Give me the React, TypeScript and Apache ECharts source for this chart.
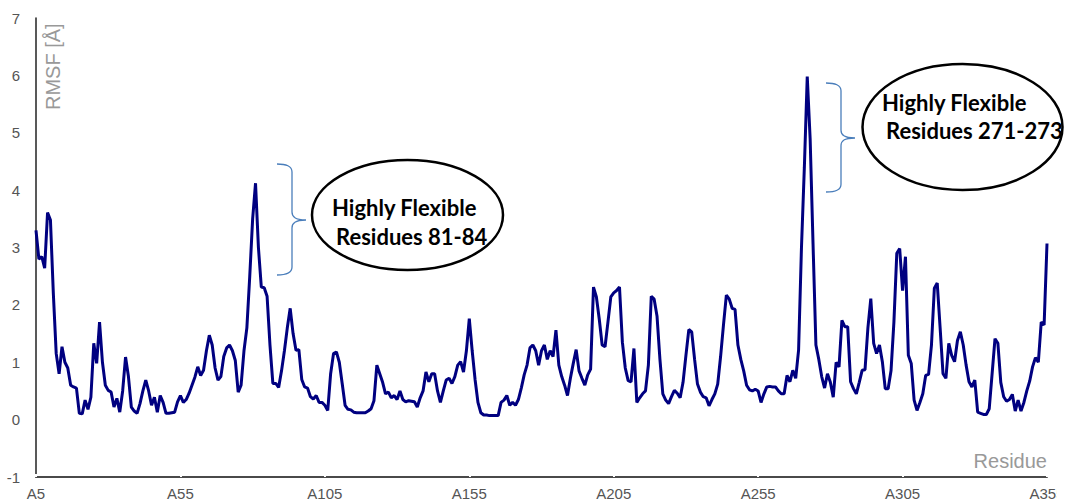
import React, { useEffect, useRef } from "react";
import * as echarts from "echarts";

// RMSF values (Å) for residues A5 … A355
const rmsf: number[] = [
  // A5 – A54
  3.30, 2.80, 2.84, 2.64, 3.61, 3.48, 2.20, 1.15, 0.80, 1.27,
  1.00, 0.90, 0.60, 0.57, 0.55, 0.11, 0.10, 0.34, 0.18, 0.39,
  1.33, 0.98, 1.70, 1.00, 0.60, 0.51, 0.48, 0.22, 0.37, 0.13,
  0.50, 1.09, 0.75, 0.22, 0.15, 0.11, 0.28, 0.50, 0.69, 0.50,
  0.25, 0.39, 0.13, 0.42, 0.30, 0.11, 0.11, 0.12, 0.13, 0.31,
  // A55 – A104
  0.42, 0.30, 0.35, 0.46, 0.60, 0.74, 0.92, 0.77, 0.86, 1.20,
  1.47, 1.30, 0.90, 0.69, 0.75, 1.10, 1.25, 1.30, 1.20, 1.03,
  0.48, 0.60, 1.20, 1.60, 2.50, 3.50, 4.12, 3.00, 2.31, 2.30,
  2.15, 1.30, 0.63, 0.63, 0.56, 0.85, 1.20, 1.60, 1.94, 1.50,
  1.21, 1.22, 0.70, 0.57, 0.55, 0.40, 0.36, 0.42, 0.30, 0.30,
  // A105 – A154
  0.25, 0.16, 0.80, 1.15, 1.18, 1.00, 0.63, 0.25, 0.18, 0.17,
  0.13, 0.12, 0.12, 0.12, 0.12, 0.15, 0.19, 0.33, 0.95, 0.80,
  0.65, 0.45, 0.48, 0.38, 0.42, 0.35, 0.50, 0.35, 0.31, 0.33,
  0.32, 0.31, 0.22, 0.38, 0.50, 0.83, 0.66, 0.80, 0.80, 0.50,
  0.30, 0.50, 0.69, 0.72, 0.63, 0.75, 0.95, 1.01, 0.83, 1.20,
  // A155 – A204
  1.76, 1.20, 0.70, 0.30, 0.12, 0.08, 0.08, 0.07, 0.07, 0.07,
  0.07, 0.30, 0.34, 0.42, 0.25, 0.30, 0.25, 0.35, 0.55, 0.78,
  0.95, 1.25, 1.30, 1.20, 0.95, 1.20, 1.30, 1.05, 1.20, 1.10,
  1.56, 0.95, 0.75, 0.60, 0.42, 0.72, 0.98, 1.22, 0.85, 0.72,
  0.60, 0.78, 0.88, 2.31, 2.14, 1.75, 1.30, 1.27, 1.70, 2.14,
  // A205 – A254
  2.21, 2.25, 2.31, 1.35, 0.90, 0.68, 0.66, 1.24, 0.30, 0.38,
  0.45, 0.50, 0.95, 2.15, 2.10, 1.80, 1.05, 0.45, 0.34, 0.28,
  0.40, 0.51, 0.46, 0.38, 0.65, 1.12, 1.57, 1.53, 1.05, 0.62,
  0.48, 0.40, 0.38, 0.24, 0.35, 0.45, 0.62, 1.10, 1.65, 2.17,
  2.10, 1.94, 1.92, 1.30, 1.05, 0.85, 0.60, 0.52, 0.50, 0.53,
  // A255 – A304
  0.50, 0.30, 0.45, 0.57, 0.58, 0.57, 0.57, 0.50, 0.45, 0.45,
  0.77, 0.66, 0.86, 0.72, 1.21, 3.00, 4.40, 5.98, 4.90, 3.07,
  1.30, 1.05, 0.75, 0.55, 0.80, 0.65, 0.39, 1.00, 0.92, 1.73,
  1.62, 1.62, 0.66, 0.54, 0.45, 0.65, 0.86, 0.87, 1.60, 2.11,
  1.33, 1.15, 1.30, 1.01, 0.54, 0.54, 0.85, 1.70, 2.90, 2.98,
  // A305 – A355
  2.25, 2.84, 1.12, 0.98, 0.34, 0.16, 0.30, 0.45, 0.77, 0.79,
  1.30, 2.29, 2.38, 1.60, 0.80, 0.72, 1.33, 1.12, 1.01, 1.38,
  1.53, 1.30, 0.95, 0.66, 0.57, 0.69, 0.13, 0.11, 0.09, 0.09,
  0.19, 0.80, 1.41, 1.33, 0.65, 0.40, 0.32, 0.35, 0.44, 0.15,
  0.34, 0.15, 0.30, 0.50, 0.67, 0.92, 1.08, 1.00, 1.70, 1.65,
  3.07,
];

const firstResidue = 5;
const residues: string[] = rmsf.map((_, i) => "A" + (firstResidue + i));
const labelEvery = 50;

const yMin = -1;
const yMax = 7;
const yStep = 1;

const yAxisTitle = "RMSF [Å]";
const xAxisTitle = "Residue";

const noteLines1 = ["Highly Flexible", "Residues 81-84"];
const noteLines2 = ["Highly Flexible", "Residues 271-273"];

const BRACE_D =
  "M0,0 C9,0 15,2 15,8 L15,48 C15,53 18,56 29,56 C18,56 15,59 15,64 L15,103 C15,109 9,111 0,111";

export default function App() {
  const ref = useRef<HTMLDivElement>(null);

  useEffect(() => {
    if (!ref.current) return;
    echarts.graphic.registerShape("brace", echarts.graphic.extendPath(BRACE_D, {}) as any);
    const chart = echarts.init(ref.current, undefined, { renderer: "svg" });

    const noteFont = "bold 22px Lato, 'Open Sans', sans-serif";
    const braceStyle = { stroke: "#4a7ebb", fill: "none", lineWidth: 1.3 };
    const noteText = (text: string, x: number, y: number) => ({
      type: "text",
      x,
      y,
      z: 11,
      style: { text, font: noteFont, fill: "#000", textAlign: "left", textVerticalAlign: "middle" },
    });

    chart.setOption({
      animation: false,
      backgroundColor: "#fff",
      grid: { left: 36, right: 27, top: 18, bottom: 24, containLabel: false },
      xAxis: {
        type: "category",
        data: residues,
        boundaryGap: false,
        axisLine: { show: true, onZero: false, lineStyle: { color: "#4a4a4a", width: 2 } },
        axisTick: {
          show: true,
          inside: true,
          length: 3,
          interval: (i: number) => i % labelEvery === 0,
          lineStyle: { color: "#ffffff", width: 2 },
        },
        axisLabel: {
          interval: (i: number) => i % labelEvery === 0,
          color: "#555",
          fontSize: 15,
          fontFamily: "'Liberation Sans', Arial, sans-serif",
          margin: 9,
        },
        splitLine: { show: false },
      },
      yAxis: {
        type: "value",
        min: yMin,
        max: yMax,
        interval: yStep,
        axisLine: { show: true, lineStyle: { color: "#222", width: 1.5 } },
        axisTick: { show: false },
        axisLabel: {
          color: "#555",
          fontSize: 15,
          fontFamily: "'Liberation Sans', Arial, sans-serif",
          margin: 16,
        },
        splitLine: { show: false },
      },
      series: [
        {
          type: "line",
          data: rmsf,
          showSymbol: false,
          symbol: "none",
          lineStyle: { color: "#000080", width: 3 },
          z: 2,
        },
      ],
      graphic: [
        {
          type: "text",
          x: 53,
          y: 110,
          rotation: Math.PI / 2,
          style: {
            text: yAxisTitle,
            fill: "#999",
            font: "20px 'Liberation Sans', Arial, sans-serif",
            textAlign: "left",
            textVerticalAlign: "middle",
          },
        },
        {
          type: "text",
          x: 1047,
          y: 461,
          style: {
            text: xAxisTitle,
            fill: "#999",
            font: "20px 'Liberation Sans', Arial, sans-serif",
            textAlign: "right",
            textVerticalAlign: "middle",
          },
        },
        { type: "brace", x: 277, y: 164, style: braceStyle, z: 10 },
        { type: "brace", x: 826, y: 83, scaleY: 109 / 111, style: braceStyle, z: 10 },
        {
          type: "ellipse",
          shape: { cx: 407.5, cy: 215, rx: 95.5, ry: 55 },
          style: { fill: "#fff", stroke: "#000", lineWidth: 2.5 },
          z: 10,
        },
        {
          type: "ellipse",
          shape: { cx: 962.5, cy: 127, rx: 100, ry: 63 },
          style: { fill: "#fff", stroke: "#000", lineWidth: 2.5 },
          z: 10,
        },
        noteText(noteLines1[0], 332, 207),
        noteText(noteLines1[1], 336, 236),
        noteText(noteLines2[0], 882, 102),
        noteText(noteLines2[1], 886, 130),
        {
          type: "rect",
          shape: { x: 1057, y: 480, width: 20, height: 21 },
          style: { fill: "#fff" },
          z: 100,
        },
      ],
    });

    return () => chart.dispose();
  }, []);

  return (
    <div
      ref={ref}
      style={{ position: "absolute", left: 0, top: 0, width: 1074, height: 501 }}
    />
  );
}
